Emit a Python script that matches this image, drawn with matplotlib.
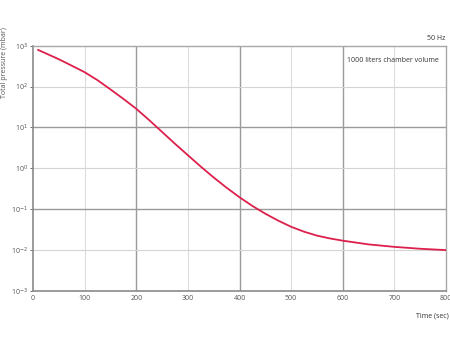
import matplotlib
matplotlib.use("Agg")
import matplotlib.pyplot as plt
from matplotlib.ticker import FixedLocator, NullLocator

# pump-down curve (time in s, pressure in mbar)
time_s = [10, 25, 50, 75, 100, 125, 150, 175, 200, 225, 250, 275, 300, 325, 350,
          375, 400, 425, 450, 475, 500, 525, 550, 575, 600, 650, 700, 750, 800]
pressure = [785, 646, 465, 324, 224, 143, 85, 50, 28.6, 15.1, 7.76, 3.98, 2.09,
            1.10, 0.596, 0.335, 0.196, 0.120, 0.0776, 0.0525, 0.0372, 0.0282,
            0.0226, 0.0193, 0.0170, 0.0138, 0.0120, 0.0108, 0.0100]

x_ticks = [0, 100, 200, 300, 400, 500, 600, 700, 800]
y_ticks = [1e-3, 1e-2, 1e-1, 1e0, 1e1, 1e2, 1e3]
y_labels = ["10$^{-3}$", "10$^{-2}$", "10$^{-1}$", "10$^{0}$", "10$^{1}$", "10$^{2}$", "10$^{3}$"]

plt.rcParams["font.family"] = ["Open Sans", "DejaVu Sans"]

fig = plt.figure(figsize=(4.5, 3.38), dpi=100)
ax = fig.add_axes([0.0733, 0.139, 0.918, 0.726])

ax.set_yscale("log")
ax.set_xlim(0, 800)
ax.set_ylim(1e-3, 1e3)

# grid: heavy lines every 200 s / every second decade, light ones between
for x in x_ticks[1:-1]:
    heavy = x % 200 == 0
    ax.axvline(x, color="#9a9a9a" if heavy else "#dcdcdc", lw=1.0 if heavy else 0.8, zorder=0)
for y in y_ticks[1:-1]:
    heavy = y in (1e1, 1e-1)
    ax.axhline(y, color="#9a9a9a" if heavy else "#d4d4d4", lw=1.0 if heavy else 0.8, zorder=0)

ax.plot(time_s, pressure, color="#dd1f4b", lw=1.3, zorder=3)

ax.xaxis.set_major_locator(FixedLocator(x_ticks))
ax.yaxis.set_major_locator(FixedLocator(y_ticks))
ax.yaxis.set_minor_locator(NullLocator())
ax.set_yticklabels(y_labels)
ax.tick_params(axis="both", labelsize=5, colors="#555555", length=2, width=0.6, pad=2)
ax.tick_params(axis="x", length=0, pad=3)

for side in ("left", "bottom"):
    ax.spines[side].set_color("#8a8a8a")
    ax.spines[side].set_linewidth(1.2)
for side in ("top", "right"):
    ax.spines[side].set_color("#a8a8a8")
    ax.spines[side].set_linewidth(1.0)

ax.text(0.983, 0.955, "1000 liters chamber volume", transform=ax.transAxes,
        ha="right", va="top", fontsize=5, color="#333333")
fig.text(0.99, 0.875, "50 Hz", ha="right", va="bottom", fontsize=5, color="#333333")
fig.text(0.997, 0.065, "Time (sec)", ha="right", va="center", fontsize=5, color="#333333")
fig.text(0.009, 0.815, "Total pressure (mbar)", rotation=90, ha="center", va="center",
         fontsize=5, color="#555555")

fig.savefig("out.png", dpi=100)
